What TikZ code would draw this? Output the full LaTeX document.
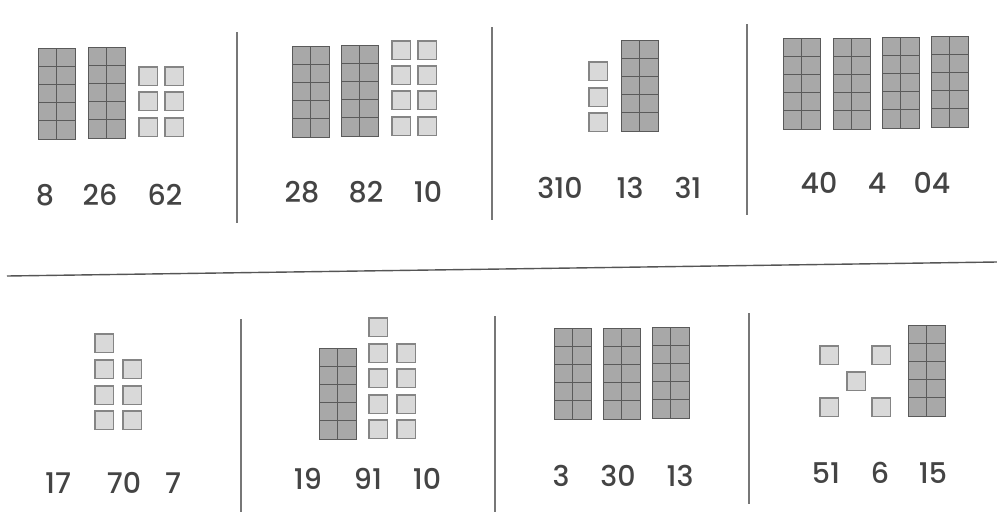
\documentclass[tikz,border=0pt]{standalone}
\usepackage{fontspec}
\setmainfont{Poppins}
\newfontfamily\numfont{Poppins Medium}
\definecolor{rodfill}{HTML}{A8A8A8}
\definecolor{rodline}{HTML}{5A5A5A}
\definecolor{unitfill}{HTML}{D9D9D9}
\definecolor{unitline}{HTML}{858585}
\definecolor{txt}{HTML}{444444}
\definecolor{rule}{HTML}{555555}
\tikzset{
  rod/.pic={
    \fill[rodfill] (0,0) rectangle (37,91);
    \draw[rodline,line width=1pt] (0,0) rectangle (37,91);
    \draw[rodline,line width=0.9pt] (18.5,0) -- (18.5,91)
      (0,18.2) -- (37,18.2) (0,36.4) -- (37,36.4)
      (0,54.6) -- (37,54.6) (0,72.8) -- (37,72.8);
  },
  unit/.pic={
    \draw[unitline,fill=unitfill,line width=1.2pt] (0,0) rectangle (18.5,18.5);
  },
  numlabel/.style={text=txt,font=\numfont\fontsize{28.5}{31}\selectfont,inner sep=0pt,anchor=center},
  divider/.style={draw=rule!80,line width=1.1pt},
  hrule/.style={draw=rule,line width=1.4pt}
}
\begin{document}
\begin{tikzpicture}[x=1pt,y=-1pt]
\useasboundingbox[fill=white] (0,0) rectangle (997,512);
% separators
\draw[hrule] (7,276) -- (997,262);
\draw[divider] (237,32) -- (237,223);
\draw[divider] (492,27) -- (492,220);
\draw[divider] (747,24) -- (747,215);
\draw[divider] (241,319) -- (241,512);
\draw[divider] (495,316) -- (495,512);
\draw[divider] (749,313) -- (749,504);
% top panel 1
\pic at (38,48) {rod};
\pic at (88,47) {rod};
\foreach \x in {139,165} \foreach \y in {67,92,118} \pic at (\x,\y) {unit};
\node[numlabel] (a1) at (45,195) {8};
\node[numlabel] (a2) at (100,195) {26};
\node[numlabel] (a3) at (165,195) {62};
% top panel 2
\pic at (292,46) {rod};
\pic at (341,45) {rod};
\foreach \x in {392,418} \foreach \y in {41,66,91,117} \pic at (\x,\y) {unit};
\node[numlabel] (b1) at (302,192) {28};
\node[numlabel] (b2) at (366,192) {82};
\node[numlabel] (b3) at (428,192) {10};
% top panel 3
\foreach \y in {62,88,113} \pic at (589,\y) {unit};
\pic at (621,40) {rod};
\node[numlabel] (c1) at (560,188) {310};
\node[numlabel] (c2) at (630,188) {13};
\node[numlabel] (c3) at (688,188) {31};
% top panel 4
\pic at (783,38) {rod};
\pic at (833,38) {rod};
\pic at (882,37) {rod};
\pic at (931,36) {rod};
\node[numlabel] (d1) at (819,183) {40};
\node[numlabel] (d2) at (877,183) {4};
\node[numlabel] (d3) at (932,183) {04};
% bottom panel 1
\pic at (95,334) {unit};
\foreach \x in {95,123} \foreach \y in {360,386,411} \pic at (\x,\y) {unit};
\node[numlabel] (e1) at (58,483) {17};
\node[numlabel] (e2) at (124,483) {70};
\node[numlabel] (e3) at (173,483) {7};
% bottom panel 2
\pic at (319,348) {rod};
\pic at (369,318) {unit};
\foreach \x in {369,397} \foreach \y in {344,369,395,420} \pic at (\x,\y) {unit};
\node[numlabel] (f1) at (308,479) {19};
\node[numlabel] (f2) at (368,479) {91};
\node[numlabel] (f3) at (427,479) {10};
% bottom panel 3
\pic at (554,328) {rod};
\pic at (603,328) {rod};
\pic at (652,327) {rod};
\node[numlabel] (g1) at (561,476) {3};
\node[numlabel] (g2) at (618,476) {30};
\node[numlabel] (g3) at (680,476) {13};
% bottom panel 4
\pic at (820,346) {unit};
\pic at (872,346) {unit};
\pic at (847,372) {unit};
\pic at (820,398) {unit};
\pic at (872,398) {unit};
\pic at (908,325) {rod};
\node[numlabel] (h1) at (826,473) {51};
\node[numlabel] (h2) at (880,473) {6};
\node[numlabel] (h3) at (933,473) {15};
\end{tikzpicture}
\end{document}
